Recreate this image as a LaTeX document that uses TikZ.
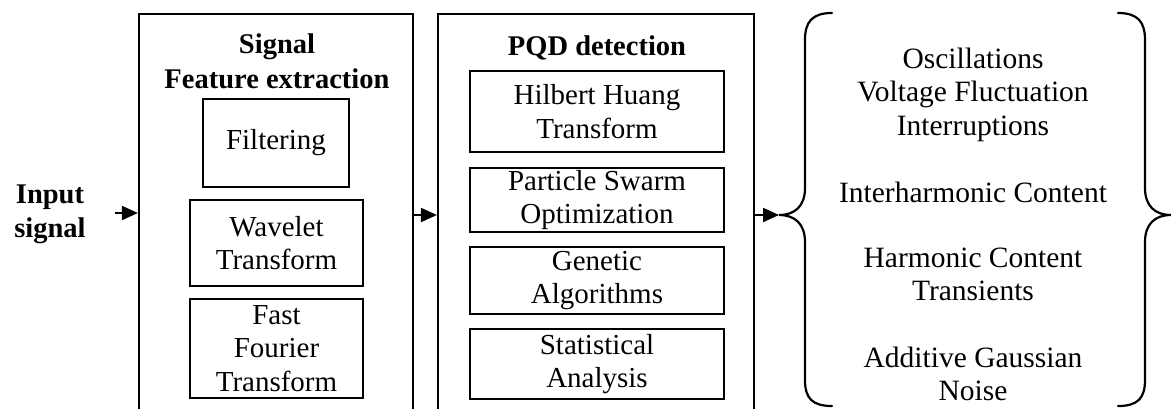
\documentclass[tikz,border=0pt]{standalone}
\usepackage{fontspec}
\setmainfont{Liberation Serif}
\usetikzlibrary{arrows.meta}
\tikzset{
  box/.style={draw, line width=2.2pt, inner sep=0pt, align=center, font=\fontsize{29}{33.5}\selectfont},
  outer/.style={draw, line width=2.2pt, inner sep=0pt},
  title/.style={font=\fontsize{28.5}{35}\selectfont\bfseries, align=center, inner sep=0pt},
  lbl/.style={font=\fontsize{29.5}{33}\selectfont, align=center, inner sep=0pt, anchor=base},
  arr/.style={line width=2pt, -{Triangle[length=16pt,width=14pt]}},
  brace/.style={line width=2.2pt, line cap=round}
}
\begin{document}
\begin{tikzpicture}[x=1pt,y=-1pt]
\useasboundingbox (0,0) rectangle (1171,408);
\clip (0,0) rectangle (1171,408);
% outer boxes (open at bottom, extend past the edge)
\node[outer, minimum width=274pt, minimum height=420pt] (fe) at (276,224) {};
\node[outer, minimum width=316pt, minimum height=420pt] (pqd) at (596,224) {};
% titles
\node[title, anchor=base] (t1) at (277,53) {Signal};
\node[title, anchor=base] (t2) at (277,88) {Feature extraction};
\node[title, anchor=base] (t3) at (597,55) {PQD detection};
% input
\node[title, anchor=base] (in1) at (50,203) {Input};
\node[title, anchor=base] (in2) at (50,237) {signal};
% left inner boxes
\node[box, minimum width=146pt, minimum height=88pt] (filt) at (276,143) {Filtering};
\node[box, minimum width=173pt, minimum height=86pt] (wav) at (276.5,243) {Wavelet\\Transform};
\node[box, minimum width=173pt, minimum height=99pt] (fft) at (276.5,348.5) {Fast\\Fourier\\Transform};
% middle inner boxes
\node[box, minimum width=254pt, minimum height=81pt] (hht) at (597,111.5) {Hilbert Huang\\Transform};
\node[box, minimum width=254pt, minimum height=64pt] (pso) at (597,200) {Particle Swarm\\Optimization};
\node[box, minimum width=254pt, minimum height=67pt] (ga) at (597,280.5) {Genetic\\Algorithms};
\node[box, minimum width=254pt, minimum height=70pt] (sa) at (597,364) {Statistical\\Analysis};
% arrows
\coordinate (a0) at (115,213);
\coordinate (a1) at (413,215);
\coordinate (a2) at (754,215);
\coordinate (bt) at (779,215);
\draw[arr] (a0) -- (a0 -| fe.west);
\draw[arr] (a1) -- (a1 -| pqd.west);
\draw[arr] (a2) -- (bt);
% braces
\draw[brace] (832,13) .. controls (812,13) and (805,22) .. (805,40) -- (805,188)
  .. controls (805,206) and (795,215) .. (bt)
  .. controls (795,215) and (805,224) .. (805,242) -- (805,380)
  .. controls (805,398) and (812,406) .. (832,406);
\coordinate (rt) at (1171,215);
\draw[brace] (1118,13) .. controls (1138,13) and (1145,22) .. (1145,40) -- (1145,188)
  .. controls (1145,206) and (1155,215) .. (rt)
  .. controls (1155,215) and (1145,224) .. (1145,242) -- (1145,380)
  .. controls (1145,398) and (1138,406) .. (1118,406);
% results
\node[lbl] (r1) at (973,68) {Oscillations};
\node[lbl] (r2) at (973,101) {Voltage Fluctuation};
\node[lbl] (r3) at (973,135) {Interruptions};
\node[lbl] (r4) at (973,202) {Interharmonic Content};
\node[lbl] (r5) at (973,267) {Harmonic Content};
\node[lbl] (r6) at (973,300) {Transients};
\node[lbl] (r7) at (973,367) {Additive Gaussian};
\node[lbl] (r8) at (973,400) {Noise};
\end{tikzpicture}
\end{document}
